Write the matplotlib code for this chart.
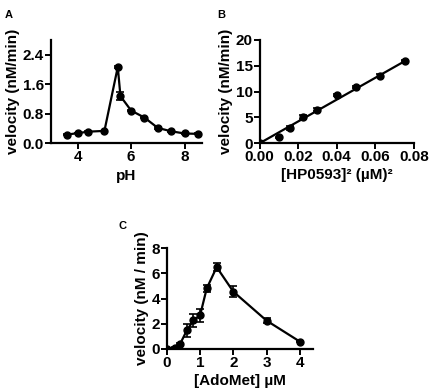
import matplotlib
matplotlib.use("Agg")
import matplotlib.pyplot as plt
import numpy as np

plt.rcParams['font.family'] = ['Liberation Sans', 'DejaVu Sans']
plt.rcParams['font.weight'] = 'bold'
plt.rcParams['axes.labelweight'] = 'bold'

# panel A: pH profile
ph = [3.6, 4.0, 4.4, 5.0, 5.5, 5.6, 6.0, 6.5, 7.0, 7.5, 8.0, 8.5]
ph_vel = [0.24, 0.28, 0.32, 0.34, 2.07, 1.28, 0.89, 0.70, 0.42, 0.33, 0.27, 0.26]
ph_err = [0.01, 0.01, 0.01, 0.01, 0.02, 0.10, 0.02, 0.02, 0.02, 0.01, 0.01, 0.01]

# panel B: velocity vs [HP0593]^2
hp_sq = [0.0, 0.01, 0.0156, 0.0225, 0.03, 0.04, 0.05, 0.0625, 0.0756]
hp_vel = [0.0, 1.15, 3.0, 5.1, 6.5, 9.3, 10.8, 13.1, 16.0]
hp_err = [0.0, 0.1, 0.4, 0.4, 0.3, 0.2, 0.2, 0.3, 0.1]
hp_slope = 211.0

# panel C: AdoMet titration
ado = [0.0, 0.25, 0.4, 0.6, 0.8, 1.0, 1.2, 1.5, 2.0, 3.0, 4.0]
ado_vel = [0.0, 0.08, 0.38, 1.45, 2.25, 2.65, 4.8, 6.5, 4.55, 2.24, 0.57]
ado_err = [0.0, 0.05, 0.05, 0.55, 0.5, 0.5, 0.3, 0.3, 0.45, 0.2, 0.05]

fig = plt.figure(figsize=(4.3, 3.92), dpi=100)

def style(ax):
    for s in ['top', 'right']:
        ax.spines[s].set_visible(False)
    for s in ['left', 'bottom']:
        ax.spines[s].set_linewidth(1.6)
    ax.tick_params(width=1.4, length=4, labelsize=11, pad=1)
    for lab in ax.get_xticklabels() + ax.get_yticklabels():
        lab.set_fontweight('bold')

kw = dict(color='black', marker='o', markersize=5, linewidth=1.6,
          capsize=3, elinewidth=1.2, capthick=1.2)

axA = fig.add_axes([0.1186, 0.634, 0.351, 0.264])
axA.errorbar(ph, ph_vel, yerr=ph_err, **kw)
axA.set_xlim(3.0, 8.65)
axA.set_ylim(0, 2.8)
axA.set_xticks([4, 6, 8])
axA.set_yticks([0.0, 0.8, 1.6, 2.4])
axA.set_yticklabels(['0.0', '0.8', '1.6', '2.4'])
axA.set_xlabel('pH', fontsize=11, labelpad=3)
axA.set_ylabel('velocity (nM/min)', fontsize=11, labelpad=2)
style(axA)

axB = fig.add_axes([0.6035, 0.6344, 0.359, 0.264])
axB.errorbar(hp_sq, hp_vel, yerr=hp_err, color='black', marker='o',
             markersize=5, linestyle='none', capsize=3,
             elinewidth=1.2, capthick=1.2)
fit_x = np.array([0.0, hp_sq[-1]])
axB.plot(fit_x, hp_slope * fit_x, color='black', linewidth=1.6)
axB.set_xlim(0, 0.08)
axB.set_ylim(0, 20)
axB.set_xticks([0.0, 0.02, 0.04, 0.06, 0.08])
axB.set_xticklabels(['0.00', '0.02', '0.04', '0.06', '0.08'])
axB.set_yticks([0, 5, 10, 15, 20])
axB.set_xlabel('[HP0593]² (µM)²', fontsize=11, labelpad=3)
axB.set_ylabel('velocity (nM/min)', fontsize=11, labelpad=2)
style(axB)

axC = fig.add_axes([0.388, 0.1105, 0.34, 0.256])
axC.errorbar(ado, ado_vel, yerr=ado_err, **kw)
axC.set_xlim(0, 4.4)
axC.set_ylim(0, 8)
axC.set_xticks([0, 1, 2, 3, 4])
axC.set_yticks([0, 2, 4, 6, 8])
axC.set_xlabel('[AdoMet] µM', fontsize=11, labelpad=3)
axC.set_ylabel('velocity (nM / min)', fontsize=11, labelpad=2)
style(axC)

fig.text(0.012, 0.975, 'A', fontsize=8, fontweight='bold', va='top')
fig.text(0.505, 0.975, 'B', fontsize=8, fontweight='bold', va='top')
fig.text(0.275, 0.435, 'C', fontsize=8, fontweight='bold', va='top')

fig.savefig('out.png', dpi=100)
